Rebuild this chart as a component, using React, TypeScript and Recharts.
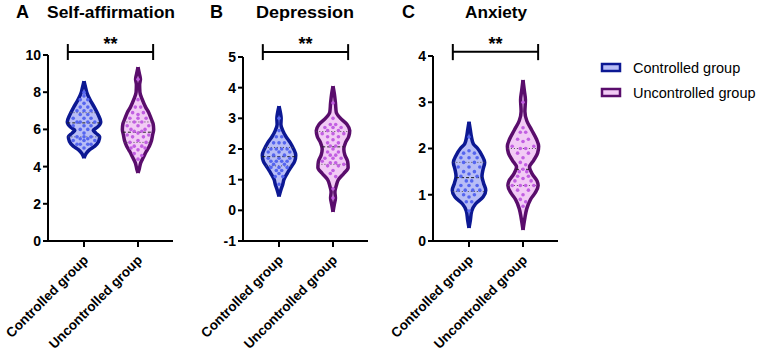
import { Area, ComposedChart, ReferenceLine, Scatter, XAxis, YAxis } from 'recharts'

const GROUPS = ['Controlled group', 'Uncontrolled group']
const PANEL_LETTERS = ['A', 'B', 'C']
const PANEL_TITLES = ['Self-affirmation', 'Depression', 'Anxiety']
const Y_DOMAINS: [number, number][] = [[0, 10], [-1, 5], [0, 4]]
const Y_TICKS = [[0, 2, 4, 6, 8, 10], [-1, 0, 1, 2, 3, 4, 5], [0, 1, 2, 3, 4]]
// significance bracket: [tick bottom, bar, tick top]
const BRACKETS = [[9.73, 10.16, 10.59], [4.9, 5.16, 5.42], [3.91, 4.09, 4.26]]

// violin outlines as [value, half width]
const selfCtrlShape = [
  [4.45, 0], [4.7, 0.04], [4.9, 0.1], [5.1, 0.2], [5.35, 0.27], [5.6, 0.29], [5.8, 0.22],
  [5.95, 0.17], [6.1, 0.24], [6.4, 0.31], [6.8, 0.26], [7.2, 0.19], [7.6, 0.11],
  [8.0, 0.05], [8.3, 0.025], [8.6, 0],
]
const selfUncShape = [
  [3.65, 0], [3.9, 0.025], [4.2, 0.05], [4.5, 0.1], [4.8, 0.15], [5.1, 0.21], [5.4, 0.25],
  [5.7, 0.27], [6.0, 0.29], [6.3, 0.28], [6.6, 0.24], [6.9, 0.2], [7.2, 0.14], [7.6, 0.08],
  [8.0, 0.035], [8.4, 0.03], [8.7, 0.045], [9.0, 0.025], [9.35, 0],
]
const depCtrlShape = [
  [0.45, 0], [0.7, 0.04], [0.85, 0.07], [1.0, 0.09], [1.2, 0.15], [1.4, 0.22], [1.6, 0.29],
  [1.8, 0.31], [2.0, 0.27], [2.2, 0.21], [2.4, 0.13], [2.6, 0.07], [2.8, 0.035],
  [3.0, 0.04], [3.2, 0.025], [3.4, 0],
]
const depUncShape = [
  [-0.05, 0], [0.2, 0.025], [0.4, 0.045], [0.6, 0.035], [0.8, 0.06], [1.0, 0.1], [1.2, 0.2],
  [1.4, 0.28], [1.6, 0.27], [1.8, 0.22], [2.0, 0.2], [2.2, 0.23], [2.4, 0.29], [2.6, 0.31],
  [2.8, 0.26], [3.0, 0.14], [3.2, 0.06], [3.5, 0.045], [3.8, 0.025], [4.05, 0],
]
const anxCtrlShape = [
  [0.28, 0], [0.45, 0.025], [0.65, 0.05], [0.8, 0.12], [0.95, 0.26], [1.1, 0.31], [1.25, 0.27],
  [1.4, 0.24], [1.55, 0.26], [1.7, 0.29], [1.85, 0.24], [2.0, 0.16], [2.1, 0.08],
  [2.25, 0.045], [2.4, 0.025], [2.58, 0],
]
const anxUncShape = [
  [0.24, 0], [0.5, 0.035], [0.7, 0.07], [0.9, 0.14], [1.05, 0.23], [1.2, 0.28], [1.3, 0.26],
  [1.45, 0.17], [1.6, 0.12], [1.75, 0.2], [1.9, 0.27], [2.05, 0.29], [2.2, 0.25], [2.4, 0.16],
  [2.6, 0.07], [2.8, 0.035], [3.05, 0.045], [3.25, 0.025], [3.48, 0],
]

// individual scores as [horizontal offset, value]
const selfCtrlDots = [
  [0, 8.0], [0, 7.8], [-0.07, 7.6], [0.07, 7.6], [0, 7.4], [-0.07, 7.2], [0.07, 7.2], [-0.13, 7.0],
  [0, 7.0], [0.13, 7.0], [-0.07, 6.8], [0.07, 6.8], [-0.2, 6.6], [0, 6.6], [0.13, 6.6], [-0.13, 6.4],
  [-0.07, 6.4], [0.07, 6.4], [0.2, 6.4], [-0.2, 6.2], [0, 6.2], [0.13, 6.2], [-0.07, 6.0], [0.07, 6.0],
  [0, 5.8], [-0.13, 5.6], [0.13, 5.6], [0, 5.6], [-0.07, 5.5], [0.07, 5.5], [-0.2, 5.4], [0, 5.4],
  [0.2, 5.4], [-0.07, 5.2], [0.07, 5.2], [-0.13, 5.2], [0.13, 5.2], [0, 5.0],
]
const selfUncDots = [
  [0, 8.7], [0, 7.6], [-0.05, 7.2], [0.05, 7.2], [-0.1, 6.9], [0.1, 6.9], [0, 6.8], [-0.15, 6.6],
  [0, 6.6], [0.15, 6.6], [-0.07, 6.4], [0.07, 6.4], [-0.2, 6.2], [0, 6.2], [0.2, 6.2], [-0.13, 6.0],
  [0.13, 6.0], [-0.07, 5.9], [0.07, 5.9], [0, 5.8], [-0.2, 5.7], [0.2, 5.7], [-0.1, 5.6], [0.1, 5.6],
  [0, 5.4], [-0.15, 5.3], [0.15, 5.3], [-0.07, 5.1], [0.07, 5.1], [-0.13, 5.0], [0.13, 5.0], [0, 4.9],
  [-0.07, 4.7], [0.07, 4.6], [0, 4.4],
]
const depCtrlDots = [
  [0, 3.0], [0, 2.6], [-0.05, 2.4], [0.05, 2.4], [-0.1, 2.2], [0, 2.2], [0.1, 2.2], [-0.15, 2.0],
  [-0.05, 2.0], [0.05, 2.0], [0.15, 2.0], [-0.2, 1.9], [0, 1.9], [0.2, 1.9], [-0.1, 1.8], [0.1, 1.8],
  [-0.2, 1.7], [0, 1.7], [0.2, 1.7], [-0.15, 1.6], [-0.05, 1.6], [0.05, 1.6], [0.15, 1.6], [-0.1, 1.5],
  [0.1, 1.5], [0, 1.4], [-0.15, 1.4], [0.15, 1.4], [-0.05, 1.3], [0.05, 1.3], [0, 1.2], [-0.07, 1.1],
  [0.07, 1.1], [0, 0.85],
]
const depUncDots = [
  [0, 3.5], [0, 3.0], [-0.05, 2.8], [0.05, 2.8], [-0.15, 2.7], [0, 2.7], [0.15, 2.7], [-0.1, 2.6],
  [0.1, 2.6], [-0.2, 2.5], [0, 2.5], [0.2, 2.5], [-0.1, 2.4], [0.1, 2.4], [0, 2.3], [-0.1, 2.2],
  [0.1, 2.2], [-0.05, 2.1], [0.05, 2.1], [0, 2.0], [-0.1, 1.9], [0.1, 1.9], [-0.05, 1.8], [0.05, 1.8],
  [-0.15, 1.7], [0, 1.7], [0.15, 1.7], [-0.2, 1.6], [-0.05, 1.55], [0.05, 1.55], [0.2, 1.5],
  [-0.1, 1.45], [0.1, 1.45], [0, 1.3], [-0.05, 1.2], [0.05, 1.1], [0, 0.7], [0, 0.4],
]
const anxCtrlDots = [
  [0, 2.25], [0, 1.95], [-0.1, 1.9], [0.1, 1.9], [-0.15, 1.8], [0, 1.8], [0.15, 1.8], [-0.1, 1.7],
  [0.1, 1.7], [-0.2, 1.6], [0, 1.6], [0.2, 1.6], [-0.1, 1.5], [0.1, 1.5], [0, 1.45], [-0.15, 1.4],
  [0.15, 1.4], [-0.05, 1.3], [0.05, 1.3], [-0.15, 1.2], [0, 1.2], [0.15, 1.2], [-0.2, 1.1],
  [-0.07, 1.1], [0.07, 1.1], [0.2, 1.1], [-0.1, 1.0], [0.1, 1.0], [0, 0.95], [-0.05, 0.85],
  [0.05, 0.85], [0, 0.65],
]
const anxUncDots = [
  [0, 3.0], [0, 2.45], [-0.05, 2.35], [0.05, 2.35], [-0.1, 2.2], [0.1, 2.2], [0, 2.15], [-0.2, 2.05],
  [-0.05, 2.0], [0.05, 2.0], [0.2, 2.05], [-0.1, 1.9], [0.1, 1.9], [0, 1.8], [-0.05, 1.7],
  [0.05, 1.65], [0, 1.55], [-0.07, 1.5], [0.07, 1.5], [-0.1, 1.4], [0.1, 1.4], [0, 1.35],
  [-0.15, 1.3], [0.15, 1.3], [-0.05, 1.2], [0.05, 1.2], [-0.2, 1.2], [0.2, 1.2], [-0.1, 1.1],
  [0.1, 1.1], [0, 1.0], [-0.05, 0.9], [0.05, 0.85], [0, 0.75],
]

// quartile lines as [value, half width]: lower quartile, median, upper quartile
const selfCtrlQuart = [[5.6, 0.29], [6.35, 0.31], [6.9, 0.25]]
const selfUncQuart = [[5.3, 0.25], [5.85, 0.28], [6.4, 0.27]]
const depCtrlQuart = [[1.45, 0.24], [1.75, 0.31], [2.05, 0.26]]
const depUncQuart = [[1.5, 0.27], [2.07, 0.2], [2.57, 0.31]]
const anxCtrlQuart = [[1.07, 0.3], [1.37, 0.24], [1.7, 0.29]]
const anxUncQuart = [[1.2, 0.28], [1.55, 0.13], [2.0, 0.28]]

const PANELS = [
  { shapes: [selfCtrlShape, selfUncShape], dots: [selfCtrlDots, selfUncDots], quarts: [selfCtrlQuart, selfUncQuart] },
  { shapes: [depCtrlShape, depUncShape], dots: [depCtrlDots, depUncDots], quarts: [depCtrlQuart, depUncQuart] },
  { shapes: [anxCtrlShape, anxUncShape], dots: [anxCtrlDots, anxUncDots], quarts: [anxCtrlQuart, anxUncQuart] },
]

const FILLS = ['#b8bdf6', '#f2cbf5']
const STROKES = ['#0c1893', '#5a0d6c']
const DOT_COLORS = ['#5565ef', '#c25fe2']
const FONT = '"Liberation Sans", Arial, sans-serif'

const PANEL_LEFT = [0, 195, 385]
const PANEL_TOP = [55, 57, 56]

function GroupTick({ x, y, payload }: any) {
  return (
    <g transform={`translate(${x + 5},${y + 12})`}>
      <text textAnchor="end" transform="rotate(-45)" fontSize={13.5} fontWeight="bold" fill="#000">
        {GROUPS[Math.round(payload.value) - 1]}
      </text>
    </g>
  )
}

function ViolinPanel({ index }: { index: number }) {
  const panel = PANELS[index]
  const [low, bar, high] = BRACKETS[index]
  const axisStyle = { stroke: '#000', strokeWidth: 2 }

  return (
    <ComposedChart
      layout="vertical"
      width={185}
      height={358}
      margin={{ top: PANEL_TOP[index], right: 12, bottom: 0, left: 18 }}
    >
      <XAxis
        type="number"
        dataKey="x"
        domain={[0.333, 2.648]}
        ticks={[1, 2]}
        allowDataOverflow
        interval={0}
        height={117}
        tickSize={6}
        axisLine={axisStyle}
        tickLine={axisStyle}
        tick={(props: any) => <GroupTick {...props} />}
      />
      <YAxis
        type="number"
        dataKey="v"
        domain={Y_DOMAINS[index]}
        ticks={Y_TICKS[index]}
        reversed
        allowDataOverflow
        interval={0}
        width={30}
        tickSize={5}
        axisLine={axisStyle}
        tickLine={axisStyle}
        tick={{ fontSize: 14, fontWeight: 'bold', fill: '#000' }}
      />
      {panel.shapes.map((shape, g) => (
        <Area
          key={`shape-${g}`}
          data={shape.map(([v, w]) => ({ v, r: [g + 1 - w, g + 1 + w] }))}
          dataKey="r"
          type="monotone"
          fill={FILLS[g]}
          fillOpacity={1}
          stroke={STROKES[g]}
          strokeWidth={3.5}
          dot={false}
          activeDot={false}
          isAnimationActive={false}
        />
      ))}
      {panel.dots.map((dots, g) => (
        <Scatter
          key={`dots-${g}`}
          data={dots.map(([dx, v]) => ({ x: g + 1 + dx, v }))}
          shape={(p: any) => <circle cx={p.cx} cy={p.cy} r={1.8} fill={DOT_COLORS[g]} />}
          isAnimationActive={false}
        />
      ))}
      {panel.quarts.flatMap((quart, g) =>
        quart.map(([v, w], q) => (
          <ReferenceLine
            key={`q-${g}-${q}`}
            segment={[{ x: g + 1 - w, y: v }, { x: g + 1 + w, y: v }]}
            stroke={q === 1 ? '#222' : '#555'}
            strokeWidth={1}
            strokeDasharray={q === 1 ? '3 2' : '1 2'}
          />
        )),
      )}
      <ReferenceLine
        segment={[{ x: 0.7, y: bar }, { x: 2.28, y: bar }]}
        stroke="#000"
        strokeWidth={2}
        ifOverflow="visible"
        label={{ value: '**', position: 'top', offset: 2, fontSize: 18, fontWeight: 'bold', fill: '#000' }}
      />
      <ReferenceLine segment={[{ x: 0.7, y: low }, { x: 0.7, y: high }]} stroke="#000" strokeWidth={2} ifOverflow="visible" />
      <ReferenceLine segment={[{ x: 2.28, y: low }, { x: 2.28, y: high }]} stroke="#000" strokeWidth={2} ifOverflow="visible" />
    </ComposedChart>
  )
}

const LETTER_X = [16, 210, 402]
const TITLE_X = [47, 256, 465]
const TITLE_W = [128, 98, 62]

export default function App() {
  return (
    <div style={{ position: 'absolute', left: 0, top: 0, width: 762, height: 358, background: '#fff', fontFamily: FONT }}>
      <svg width={762} height={358} style={{ position: 'absolute', left: 0, top: 0 }}>
        {PANEL_TITLES.map((title, i) => (
          <g key={title} fontWeight="bold" fill="#000">
            <text x={LETTER_X[i]} y={18} fontSize={18}>{PANEL_LETTERS[i]}</text>
            <text x={TITLE_X[i]} y={18} fontSize={16.5} textLength={TITLE_W[i]} lengthAdjust="spacingAndGlyphs">
              {title}
            </text>
          </g>
        ))}
        {GROUPS.map((group, g) => (
          <g key={group}>
            <rect x={602} y={64 + g * 25} width={18} height={7} fill={FILLS[g]} stroke={STROKES[g]} strokeWidth={2.5} />
            <text x={633} y={73 + g * 25} fontSize={14.5} fill="#000">{group}</text>
          </g>
        ))}
      </svg>
      {PANEL_LEFT.map((left, i) => (
        <div key={i} style={{ position: 'absolute', left, top: 0 }}>
          <ViolinPanel index={i} />
        </div>
      ))}
    </div>
  )
}
